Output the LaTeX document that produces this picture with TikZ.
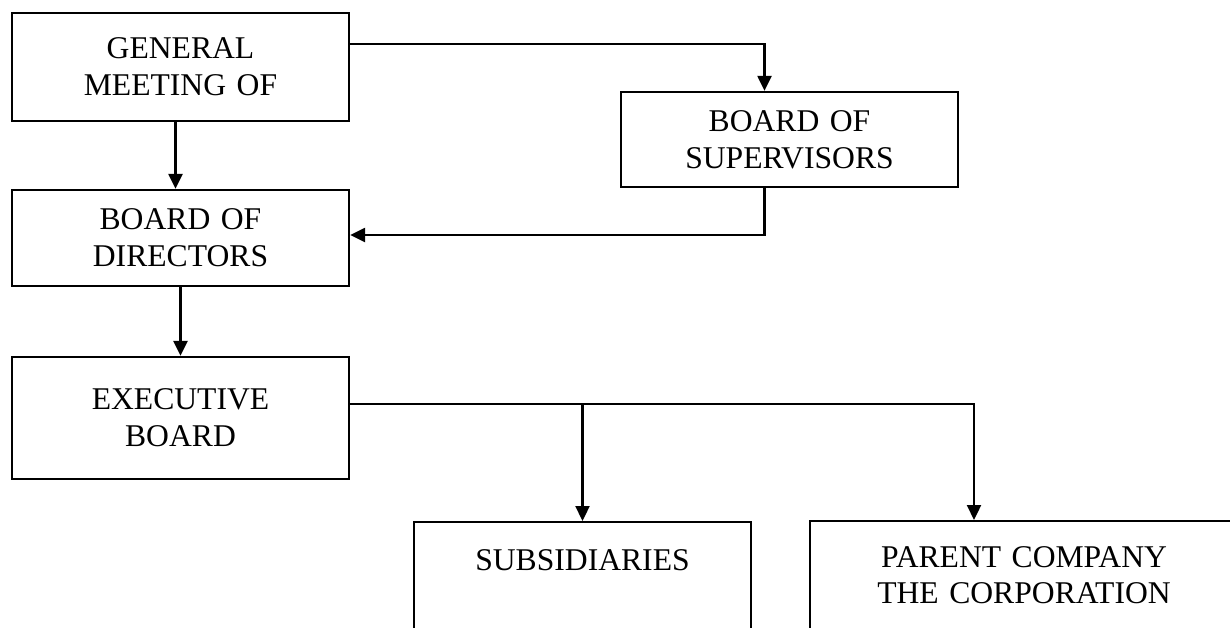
\documentclass[tikz,border=0pt]{standalone}
\usepackage{fontspec}
\setmainfont{Liberation Serif}
\usetikzlibrary{arrows.meta, calc}
\tikzstyle{block} = [rectangle, minimum width=6.74cm, text width=6.4cm, align=center, draw=black, line width=1.3pt, font=\fontsize{18}{21}\selectfont]
\tikzstyle{arrow} = [line width=1.3pt, -{Triangle[length=0.3cm, width=0.28cm]}]

\begin{document}
\begin{tikzpicture}[node distance=3.5cm]
\clip[use as bounding box] (0,0) rectangle (24.6,-12.56);

    \node (gm)   [block, minimum height=2.16cm] at (3.61,-1.34) {GENERAL\\MEETING OF};
    \node (bod)  [block, minimum height=1.92cm, below of=gm, yshift=0.08cm] {BOARD OF\\DIRECTORS};
    \node (exec) [block, minimum height=2.44cm, below of=bod, yshift=-0.1cm] {EXECUTIVE\\BOARD};

    \node (sup)  [block, minimum height=1.9cm] at (15.79,-2.79) {BOARD OF\\SUPERVISORS};

    \node (subs)   [block, anchor=north, inner ysep=0.55cm, text depth=2cm] at (11.65,-10.42) {SUBSIDIARIES};
    \node (parent) [block, anchor=north, minimum width=8.56cm, text width=8cm, inner ysep=0.5cm, text depth=2cm] at (20.48,-10.4) {PARENT COMPANY\\THE CORPORATION};

\draw [arrow] ([xshift=-0.1cm]gm.south) -- ([xshift=-0.1cm]bod.north);
\draw [arrow] ([yshift=0.46cm]gm.east) -| ([xshift=-0.5cm]sup.north);
\draw [arrow] ([xshift=-0.5cm]sup.south) |- ([yshift=0.06cm]bod.east);

\draw [arrow] (bod) -- (exec);
\draw [arrow] ([yshift=0.28cm]exec.east) -| (subs.north);
\draw [arrow] ([yshift=0.28cm]exec.east) -| ([xshift=-1cm]parent.north);

\end{tikzpicture}
\end{document}
